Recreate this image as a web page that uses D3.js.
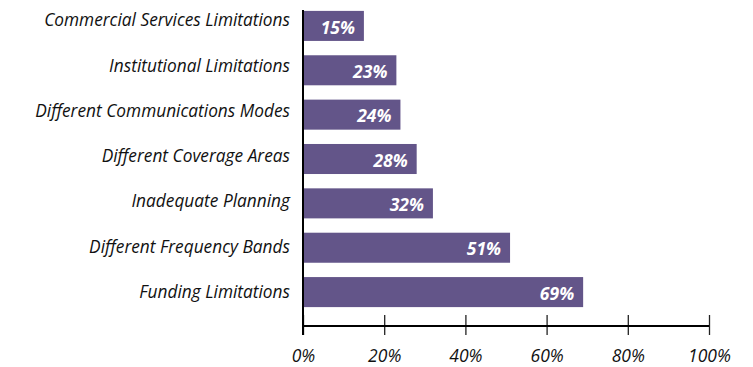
<!DOCTYPE html>
<html>
<head>
<meta charset="utf-8">
<script src="https://cdn.jsdelivr.net/npm/d3@7"></script>
<style>
  html, body { margin: 0; padding: 0; background: #fff; }
  svg { display: block; }
  text { font-family: "Open Sans", sans-serif; }
</style>
</head>
<body>
<svg id="chart" width="753" height="367"></svg>
<script>
// Reasons cited, top to bottom, with share of respondents (%)
const categories = [
  "Commercial Services Limitations",
  "Institutional Limitations",
  "Different Communications Modes",
  "Different Coverage Areas",
  "Inadequate Planning",
  "Different Frequency Bands",
  "Funding Limitations"
];
const values = [15, 23, 24, 28, 32, 51, 69];
const tickValues = [0, 20, 40, 60, 80, 100];

const svg = d3.select("#chart");
const barColor = "#635589";

const x = d3.scaleLinear().domain([0, 100]).range([303, 709]);
const y = d3.scaleBand()
  .domain(categories)
  .range([3.8, 314.2])
  .paddingInner(0.323)
  .paddingOuter(0.16);
// category names sit on their own, slightly wider spacing
const yLabel = d3.scalePoint()
  .domain(categories)
  .range([20, 291.7]);

const axisY = 326;

// bars
svg.append("g").selectAll("rect")
  .data(values)
  .join("rect")
  .attr("x", x(0))
  .attr("y", (d, i) => y(categories[i]))
  .attr("width", d => x(d) - x(0))
  .attr("height", y.bandwidth())
  .attr("fill", barColor);

// value labels inside bar ends
svg.append("g").selectAll("text")
  .data(values)
  .join("text")
  .attr("x", d => x(d) - 9)
  .attr("y", (d, i) => y(categories[i]) + y.bandwidth() / 2 + 1.3)
  .attr("dy", "0.36em")
  .attr("text-anchor", "end")
  .attr("fill", "#fff")
  .attr("font-size", 17.5)
  .attr("font-weight", "bold")
  .attr("font-style", "italic")
  .text(d => d + "%");

// category labels
svg.append("g").selectAll("text")
  .data(categories)
  .join("text")
  .attr("x", 290)
  .attr("y", d => yLabel(d))
  .attr("dy", "0.36em")
  .attr("text-anchor", "end")
  .attr("fill", "#111")
  .attr("font-size", 17.3)
  .attr("font-style", "italic")
  .text(d => d);

// x axis
const xAxis = d3.axisBottom(x)
  .tickValues(tickValues)
  .tickFormat(d => d + "%")
  .tickSize(0)
  .tickPadding(0);

const gx = svg.append("g").attr("transform", `translate(0,${axisY})`).call(xAxis);
gx.select(".domain").remove();
gx.selectAll(".tick line").remove();
gx.selectAll(".tick")
  .append("line")
  .attr("y1", -11).attr("y2", 9)
  .attr("stroke", "#222").attr("stroke-width", 1.3);
gx.selectAll(".tick text")
  .attr("y", 36)
  .attr("dy", 0)
  .attr("fill", "#111")
  .attr("font-size", 17.5)
  .attr("font-style", "italic")
  .attr("font-family", "'Open Sans', sans-serif");

svg.append("line")
  .attr("x1", x(0)).attr("x2", x(100))
  .attr("y1", axisY).attr("y2", axisY)
  .attr("stroke", "#000").attr("stroke-width", 2);

// y axis line
svg.append("line")
  .attr("x1", x(0)).attr("x2", x(0))
  .attr("y1", 10).attr("y2", axisY + 9)
  .attr("stroke", "#000").attr("stroke-width", 2);
</script>
</body>
</html>
